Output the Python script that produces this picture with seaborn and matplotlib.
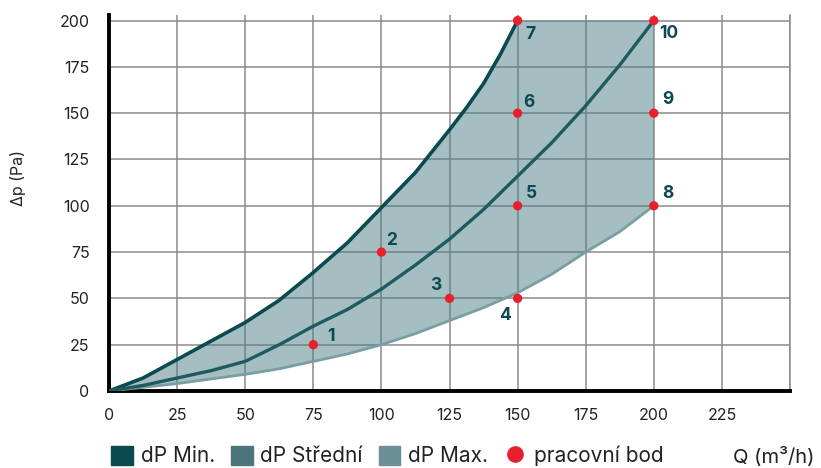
import numpy as np
import pandas as pd
import seaborn as sns
import matplotlib.pyplot as plt
from matplotlib.patches import Patch
from matplotlib.lines import Line2D

# flow values (m3/h) at which the curves were read
q_min = [0, 12.5, 25, 37.5, 50, 62.5, 75, 87.5, 100, 112.5, 125, 131.25,
         137.5, 143.75, 150]
q_all = [0, 12.5, 25, 37.5, 50, 62.5, 75, 87.5, 100, 112.5, 125, 137.5, 150,
         162.5, 175, 187.5, 200]

# pressure drop curves (Pa)
dp_min = [0, 7, 17, 27, 37, 49, 64, 80, 99, 118, 141, 153, 166, 182, 200]
dp_mid = [0, 3, 7, 11, 16, 25, 35, 44, 55, 68, 82, 98, 116, 134, 154, 176, 200]
dp_max = [0, 2, 4, 6.5, 9, 12, 16, 20, 25, 31, 38, 45, 53, 63, 75, 86, 100]

# working points
pt_q = [75, 100, 125, 150, 150, 150, 150, 200, 200, 200]
pt_dp = [25, 75, 50, 50, 100, 150, 200, 100, 150, 200]
pt_lab = ['1', '2', '3', '4', '5', '6', '7', '8', '9', '10']
# label offsets (points)
pt_off = [(13, 6), (7, 8), (-10, 9), (-9, -12), (10, 9), (8, 8), (9, -10),
          (10, 9), (10, 10), (11, -9)]

x_ticks = [0, 25, 50, 75, 100, 125, 150, 175, 200, 225, 250]
x_labels = ['0', '25', '50', '75', '100', '125', '150', '175', '200', '225', '']
y_ticks = [0, 25, 50, 75, 100, 125, 150, 175, 200]

c_min = '#0b4a4f'
c_mid = '#4a767c'
c_max = '#6b9097'
c_red = '#e8202e'

sns.set_style('white')
plt.rcParams['font.family'] = ['Inter', 'DejaVu Sans']

fig = plt.figure(figsize=(8.21, 4.68), dpi=100)
ax = fig.add_axes([109 / 821, 77 / 468, 681 / 821, 376 / 468])

# shaded operating area (min curve, then the 200 Pa cap, down to max curve)
upper_q = q_min + q_all[13:]
upper = dp_min + [200] * len(q_all[13:])
ax.fill(upper_q + q_all[::-1], upper + dp_max[::-1], color='#4a7f86',
        alpha=0.5, lw=0, zorder=1)

curves = pd.DataFrame({'Q': q_all, 'mid': dp_mid, 'max': dp_max})
sns.lineplot(x=q_min, y=dp_min, ax=ax, color=c_min, lw=2.6, zorder=4)
sns.lineplot(data=curves, x='Q', y='mid', ax=ax, color='#1f5a5f', lw=2.4, zorder=4)
sns.lineplot(data=curves, x='Q', y='max', ax=ax, color='#7a9ea2', lw=2.0, zorder=3)

pts = pd.DataFrame({'Q': pt_q, 'dp': pt_dp})
sns.scatterplot(data=pts, x='Q', y='dp', ax=ax, color=c_red, s=45,
                edgecolor='none', zorder=6, clip_on=False)
for q, d, lab, off in zip(pt_q, pt_dp, pt_lab, pt_off):
    ax.annotate(lab, (q, d), xytext=off, textcoords='offset points',
                ha='center', va='center', fontsize=12.5, fontweight='bold',
                color='#0d4a50', zorder=7)

ax.set_xlim(0, 250)
ax.set_ylim(0, 203)
ax.set_xticks(x_ticks)
ax.set_xticklabels(x_labels)
ax.set_yticks(y_ticks)
ax.grid(True, color='#8a8a8a', lw=1.1)
ax.set_axisbelow(True)
ax.tick_params(axis='both', length=0, labelsize=11.5, colors='#222222')
ax.tick_params(axis='x', pad=12)
ax.tick_params(axis='y', pad=14)

for s in ['left', 'bottom']:
    ax.spines[s].set_color('black')
    ax.spines[s].set_linewidth(2.8)
ax.spines['top'].set_visible(False)
ax.spines['right'].set_color('#8a8a8a')
ax.spines['right'].set_linewidth(1.1)

ax.set_ylabel('')
ax.set_xlabel('')
fig.text(18 / 821, 1 - 178 / 468, 'Δp (Pa)', rotation=90, ha='center',
         va='center', fontsize=11.5, color='#222222')
fig.text(774 / 821, 1 - 457 / 468, 'Q (m³/h)', ha='center', va='center',
         fontsize=14.5, color='#222222')

handles = [Patch(color=c_min, label='dP Min.'),
           Patch(color=c_mid, label='dP Střední'),
           Patch(color=c_max, label='dP Max.'),
           Line2D([], [], marker='o', ls='', color=c_red, markersize=11,
                  label='pracovní bod')]
fig.legend(handles=handles, loc='center left', bbox_to_anchor=(111 / 821, 1 - 456 / 468),
           ncol=4, frameon=False, fontsize=15, handlelength=1.05, handleheight=1.05,
           handletextpad=0.38, columnspacing=0.75, borderpad=0, borderaxespad=0,
           labelcolor='#222222')

fig.savefig('out.png', dpi=100)
